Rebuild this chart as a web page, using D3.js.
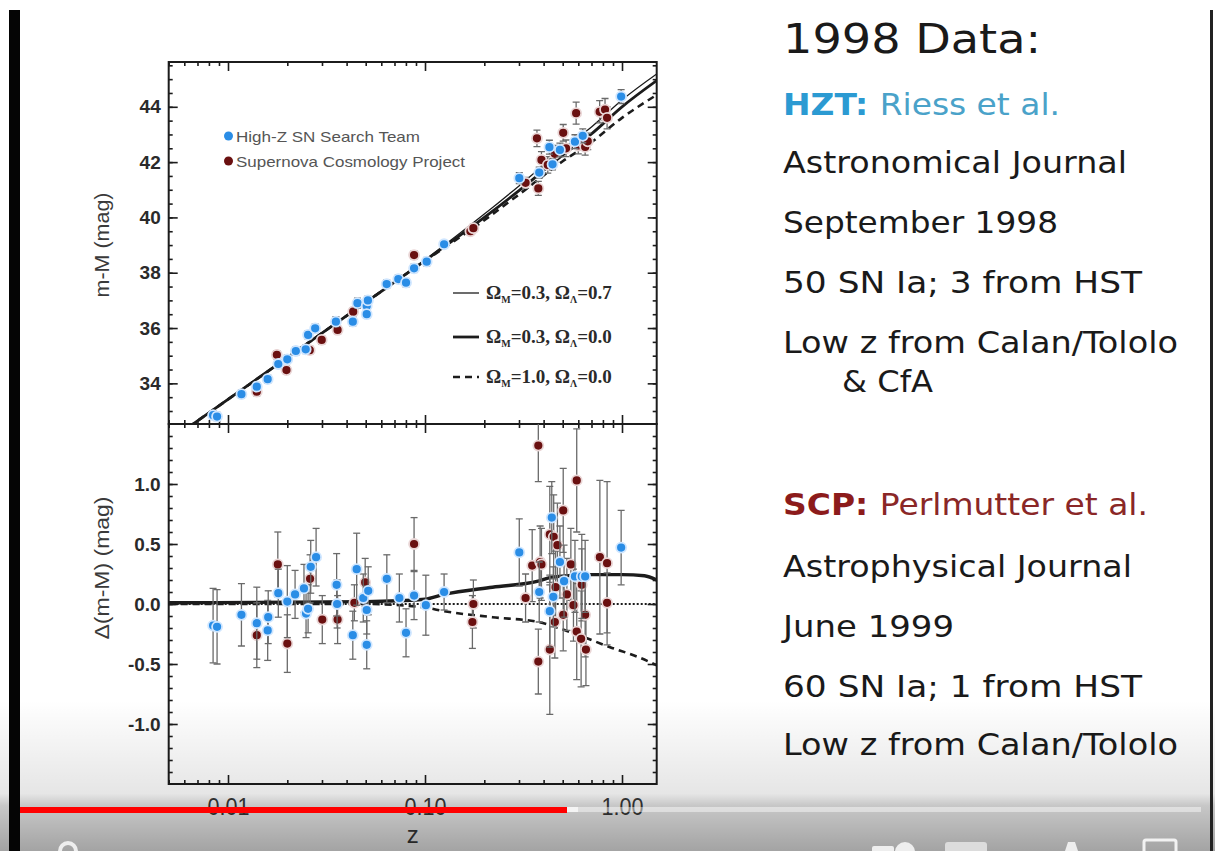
<!DOCTYPE html>
<html><head><meta charset="utf-8">
<script src="https://cdn.jsdelivr.net/npm/d3@7"></script>
<style>html,body{margin:0;padding:0;background:#fff;overflow:hidden}svg{display:block}</style>
</head><body>
<svg id="chart" width="1215" height="851"></svg>
<script>
// ---------------- data ----------------
const xMajorTicks = [0.01, 0.1, 1];
const xMinorTicks = [0.005,0.006,0.007,0.008,0.009,0.02,0.03,0.04,0.05,0.06,0.07,0.08,0.09,0.2,0.3,0.4,0.5,0.6,0.7,0.8,0.9];
const topMajorTicks = [34, 36, 38, 40, 42, 44];
const botMajorTicks = [-1.0, -0.5, 0.0, 0.5, 1.0];

// model curves, upper panel (z, m-M)
const modelZTop = [0.005,0.01,0.02,0.05,0.1,0.2,0.3,0.5,0.7,1.0,1.5];
const lcdmTop   = [31.91,33.43,34.95,36.95,38.47,40.12,41.14,42.47,43.27,44.25,45.19];
const openTop   = [31.91,33.42,34.93,36.93,38.44,40.00,40.97,42.25,43.02,44.00,44.95];
const edsTop    = [31.91,33.42,34.93,36.93,38.43,39.90,40.83,42.03,42.72,43.60,44.43];

// model curves, residual panel
const lcdmBotZ = [0.005,0.05,0.1,0.125,0.22,0.375,0.43,0.58,0.7,1.0,1.3,1.5];
const lcdmBot  = [0.01,0.02,0.04,0.08,0.14,0.19,0.22,0.24,0.245,0.245,0.235,0.2];
const openBotZ = [0.005,1.5];
const openBot  = [0,0];
const edsBotZ  = [0.005,0.05,0.1,0.125,0.22,0.375,0.58,0.87,1.2,1.5];
const edsBot   = [0,0,-0.03,-0.06,-0.11,-0.15,-0.25,-0.36,-0.44,-0.51];

// HZT upper panel [z, m-M, err]
const hztTop = [[0.0084,32.85,0.15],[0.0088,32.80,0.15],[0.0117,33.61,0.15],[0.0140,33.88,0.15],[0.0159,34.15,0.15],[0.0180,34.70,0.15],
 [0.0200,34.87,0.15],[0.0221,35.17,0.15],[0.0248,35.23,0.15],[0.0255,35.75,0.15],[0.0277,35.99,0.15],[0.0353,36.23,0.18],
 [0.0430,36.23,0.15],[0.0454,36.90,0.18],[0.0506,36.80,0.15],[0.0513,37.00,0.15],[0.0506,36.50,0.15],[0.0639,37.59,0.15],
 [0.0732,37.77,0.15],[0.0801,37.64,0.15],[0.0880,38.16,0.15],[0.102,38.40,0.15],[0.125,39.03,0.12],[0.301,41.42,0.2],
 [0.380,41.62,0.2],[0.428,42.54,0.25],[0.444,41.92,0.2],[0.484,42.44,0.25],[0.577,42.74,0.25],[0.632,42.95,0.25],[0.99,44.37,0.25]];
// SCP upper panel [z, m-M, err]
const scpTop = [[0.0140,33.70,0.15],[0.0177,35.03,0.15],[0.0198,34.48,0.15],[0.0260,35.20,0.15],[0.0299,35.57,0.15],[0.0360,35.93,0.15],
 [0.0432,36.59,0.15],[0.088,38.64,0.15],[0.170,39.50,0.15],[0.176,39.61,0.15],[0.324,41.25,0.2],[0.370,42.86,0.3],
 [0.376,41.05,0.25],[0.390,42.08,0.3],[0.420,41.90,0.3],[0.456,42.30,0.3],[0.503,43.06,0.3],[0.520,42.50,0.3],
 [0.585,43.77,0.4],[0.600,42.60,0.3],[0.625,42.74,0.3],[0.650,42.55,0.3],[0.670,42.75,0.3],[0.770,43.82,0.4],
 [0.820,43.90,0.4],[0.840,43.60,0.4]];

// HZT residual panel [z, dmu, err]
const hztBot = [[0.0084,-0.18,0.31],[0.0088,-0.19,0.31],[0.0117,-0.09,0.26],[0.0140,-0.16,0.30],[0.0160,-0.11,0.22],[0.0159,-0.22,0.25],
 [0.0180,0.09,0.20],[0.0200,0.02,0.30],[0.0219,0.08,0.20],[0.0243,0.13,0.20],[0.0249,-0.08,0.20],[0.0255,-0.04,0.20],
 [0.0263,0.31,0.22],[0.0280,0.39,0.24],[0.0356,0.16,0.26],[0.0358,0.00,0.20],[0.0430,-0.26,0.20],[0.0450,0.29,0.30],
 [0.0486,0.05,0.20],[0.0506,-0.05,0.20],[0.0515,0.11,0.20],[0.0506,-0.34,0.20],[0.0640,0.21,0.20],[0.0741,0.05,0.20],
 [0.0801,-0.24,0.20],[0.0880,0.07,0.20],[0.101,-0.01,0.25],[0.125,0.10,0.15],[0.301,0.43,0.28],[0.380,0.10,0.25],
 [0.440,0.72,0.30],[0.430,-0.06,0.30],[0.448,0.06,0.25],[0.484,0.35,0.30],[0.508,0.19,0.30],[0.577,0.23,0.30],
 [0.625,0.23,0.35],[0.650,0.23,0.30],[0.99,0.47,0.31]];
// SCP residual panel [z, dmu, err]
const scpBot = [[0.0140,-0.26,0.27],[0.0179,0.33,0.27],[0.0200,-0.33,0.24],[0.0261,0.21,0.20],[0.0301,-0.13,0.20],[0.0360,-0.13,0.20],
 [0.0438,0.01,0.15],[0.0497,0.18,0.20],[0.088,0.50,0.22],[0.176,0.00,0.20],[0.174,-0.15,0.22],[0.324,0.05,0.20],
 [0.376,1.32,0.30],[0.376,-0.48,0.27],[0.350,0.32,0.30],[0.384,0.35,0.30],[0.390,0.33,0.30],[0.430,-0.38,0.54],
 [0.430,0.58,0.40],[0.450,0.56,0.35],[0.470,0.49,0.35],[0.460,0.14,0.30],[0.456,-0.15,0.30],[0.503,0.78,0.35],
 [0.503,-0.09,0.30],[0.525,0.08,0.30],[0.550,0.33,0.30],[0.589,1.03,0.43],[0.589,-0.23,0.40],[0.620,-0.29,0.40],
 [0.625,0.16,0.30],[0.650,-0.09,0.35],[0.656,-0.38,0.30],[0.567,-0.01,0.30],[0.772,0.39,0.64],[0.840,0.34,0.68],[0.840,0.01,0.25]];

const legendSeries = ["High-Z SN Search Team", "Supernova Cosmology Project"];
const legendModels = [["0.3","0.7"],["0.3","0.0"],["1.0","0.0"]];
const xTitle = "z";
const yTopTitle = "m-M (mag)";
const yBotTitle = "\u0394(m-M) (mag)";

// ---------------- layout ----------------
const svg = d3.select('#chart');
const L = 168.7, R = 656.7, T = 62, M = 424, B = 784;
const x = d3.scaleLog().domain([0.005, 1.5]).range([L, R]);
const yTop = d3.scaleLinear().domain([32.53, 45.62]).range([M, T]);
const yBot = d3.scaleLinear().domain([-1.5, 1.5]).range([B, M]);
const blue = '#2a8de6', red = '#6a1010', ink = '#1c1c1c';

const defs = svg.append('defs');
defs.append('clipPath').attr('id','clipTop').append('rect').attr('x',L).attr('y',T).attr('width',R-L).attr('height',M-T);
defs.append('clipPath').attr('id','clipBot').append('rect').attr('x',L).attr('y',M).attr('width',R-L).attr('height',B-M);

// frames
svg.append('rect').attr('x',L).attr('y',T).attr('width',R-L).attr('height',M-T).attr('fill','none').attr('stroke',ink).attr('stroke-width',2);
svg.append('rect').attr('x',L).attr('y',M).attr('width',R-L).attr('height',B-M).attr('fill','none').attr('stroke',ink).attr('stroke-width',2);

function styleAxis(g){
  g.select('.domain').remove();
  g.selectAll('.tick line').attr('stroke', ink).attr('stroke-width', 1.6);
}
// x axes
function xAx(axisFn, ypos, label){
  svg.append('g').attr('transform',`translate(0,${ypos})`)
    .call(axisFn(x).tickValues(xMinorTicks).tickSize(-4).tickFormat('')).call(styleAxis);
  return svg.append('g').attr('transform',`translate(0,${ypos})`)
    .call(axisFn(x).tickValues(xMajorTicks).tickSize(-9).tickPadding(14).tickFormat(label ? (d => d.toFixed(2)) : '')).call(styleAxis);
}
xAx(d3.axisTop, T);
xAx(d3.axisBottom, M);
xAx(d3.axisTop, M);
const gxLab = xAx(d3.axisBottom, B, true);
gxLab.selectAll('text').attr('font-family','Liberation Sans, Arial, sans-serif').attr('font-size',24)
  .attr('fill','#3a3a3a').attr('textLength',42).attr('lengthAdjust','spacingAndGlyphs');

// y axes
function yAx(scale, minor, major, fmt){
  [[d3.axisLeft, L],[d3.axisRight, R]].forEach(([fn, xpos], i) => {
    svg.append('g').attr('transform',`translate(${xpos},0)`)
      .call(fn(scale).tickValues(minor).tickSize(-4).tickFormat('')).call(styleAxis);
    const g = svg.append('g').attr('transform',`translate(${xpos},0)`)
      .call(fn(scale).tickValues(major).tickSize(-9).tickPadding(8).tickFormat(i === 0 ? fmt : '')).call(styleAxis);
    g.selectAll('text').attr('font-family','Liberation Sans, Arial, sans-serif').attr('font-weight','bold')
      .attr('font-size',19).attr('fill','#2a2a2a');
  });
}
yAx(yTop, d3.range(33, 45.6, 0.5), topMajorTicks, d => String(d));
yAx(yBot, d3.range(-1.4, 1.45, 0.1).map(v => +v.toFixed(1)), botMajorTicks, d => d.toFixed(1));

// axis titles
svg.append('text').attr('x', (L+R)/2).attr('y', 843).attr('text-anchor','middle')
  .attr('font-family','Liberation Sans, Arial, sans-serif').attr('font-size',24).attr('fill','#3a3a3a').text(xTitle);
svg.append('text').attr('transform',`translate(109,${(T+M)/2+2}) rotate(-90)`).attr('text-anchor','middle')
  .attr('font-family','Liberation Sans, Arial, sans-serif').attr('font-size',20).attr('fill','#3a3a3a')
  .attr('textLength',105).attr('lengthAdjust','spacingAndGlyphs').text(yTopTitle);
svg.append('text').attr('transform',`translate(109,568) rotate(-90)`).attr('text-anchor','middle')
  .attr('font-family','Liberation Sans, Arial, sans-serif').attr('font-size',20).attr('fill','#3a3a3a')
  .attr('textLength',143).attr('lengthAdjust','spacingAndGlyphs').text(yBotTitle);

// model lines
function drawModel(g, zs, vs, yScale, style){
  const line = d3.line().x(d => x(d[0])).y(d => yScale(d[1])).curve(d3.curveMonotoneX);
  g.append('path').datum(zs.map((z,i)=>[z, vs[i]])).attr('d', line).attr('fill','none')
    .attr('stroke', ink).attr('stroke-width', style.w).attr('stroke-dasharray', style.dash || null);
}
const styles = [{w:1.3},{w:2.8},{w:2.6, dash:'7,5'}];
const gTop = svg.append('g').attr('clip-path','url(#clipTop)');
const gBot = svg.append('g').attr('clip-path','url(#clipBot)');
drawModel(gTop, modelZTop, lcdmTop, yTop, styles[0]);
drawModel(gTop, modelZTop, openTop, yTop, styles[1]);
drawModel(gTop, modelZTop, edsTop, yTop, styles[2]);
drawModel(gBot, openBotZ, openBot, yBot, {w:2, dash:'2,2'});
drawModel(gBot, lcdmBotZ, lcdmBot, yBot, {w:3.4});
drawModel(gBot, edsBotZ, edsBot, yBot, styles[2]);

// points with error bars
function drawPts(g, data, yScale, color, r){
  const e = g.append('g');
  data.forEach(d => {
    const px = x(d[0]), y1 = yScale(d[1]-d[2]), y2 = yScale(d[1]+d[2]);
    e.append('line').attr('x1',px).attr('x2',px).attr('y1',y1).attr('y2',y2).attr('stroke','#6a6a6a').attr('stroke-width',1.3);
    [y1,y2].forEach(yy => e.append('line').attr('x1',px-3.5).attr('x2',px+3.5).attr('y1',yy).attr('y2',yy).attr('stroke','#6a6a6a').attr('stroke-width',1.3));
  });
  g.append('g').selectAll('circle').data(data).join('circle')
    .attr('cx', d => x(d[0])).attr('cy', d => yScale(d[1])).attr('r', r)
    .attr('fill', color).attr('stroke', color === blue ? '#cfe6ff' : '#ead6d6').attr('stroke-width', 1.8);
}
drawPts(gTop, scpTop, yTop, red, 5);
drawPts(gTop, hztTop, yTop, blue, 5);
drawPts(gBot, scpBot, yBot, red, 5);
drawPts(gBot, hztBot, yBot, blue, 5);

// series legend
[[blue, 136],[red, 161]].forEach(([c, yy], i) => {
  svg.append('circle').attr('cx',228.5).attr('cy',yy).attr('r',4.5).attr('fill',c);
  svg.append('text').attr('x',236).attr('y',yy+5.5).attr('font-family','Liberation Sans, Arial, sans-serif')
    .attr('font-size',15).attr('fill','#555').attr('textLength', i === 0 ? 184 : 229).attr('lengthAdjust','spacingAndGlyphs')
    .text(legendSeries[i]);
});
// model legend
[293, 337, 377].forEach((yy, i) => {
  svg.append('line').attr('x1',453).attr('x2',479).attr('y1',yy).attr('y2',yy)
    .attr('stroke',ink).attr('stroke-width',styles[i].w).attr('stroke-dasharray',styles[i].dash || null);
  const t = svg.append('text').attr('x',486).attr('y',yy+6).attr('font-family','Liberation Serif, Times New Roman, serif')
    .attr('font-weight','bold').attr('font-size',19).attr('fill','#2a2a2a');
  t.append('tspan').text('\u03A9');
  t.append('tspan').attr('font-size',10).attr('dy',4).text('M');
  t.append('tspan').attr('dy',-4).text('=' + legendModels[i][0] + ', \u03A9');
  t.append('tspan').attr('font-size',10).attr('dy',4).text('\u039B');
  t.append('tspan').attr('dy',-4).text('=' + legendModels[i][1]);
});

// right-hand text
const rightLines = [
  {y:53, x:783, size:40, w:258, parts:[['1998 Data:','#1a1a1a','normal']]},
  {y:115, x:783, size:31, w:277, parts:[['HZT: ','#2b9ad2','bold'],['Riess et al.','#4aa2c9','normal']]},
  {y:173, x:783, size:31, w:344, parts:[['Astronomical Journal','#1a1a1a','normal']]},
  {y:233, x:783, size:31, w:275, parts:[['September 1998','#1a1a1a','normal']]},
  {y:293, x:783, size:31, w:359, parts:[['50 SN Ia; 3 from HST','#1a1a1a','normal']]},
  {y:353, x:783, size:31, w:395, parts:[['Low z from Calan/Tololo','#1a1a1a','normal']]},
  {y:392, x:842, size:31, w:91, parts:[['& CfA','#1a1a1a','normal']]},
  {y:515, x:783, size:31, w:365, parts:[['SCP: ','#8c1b1b','bold'],['Perlmutter et al.','#8a2727','normal']]},
  {y:577, x:783, size:31, w:349, parts:[['Astrophysical Journal','#1a1a1a','normal']]},
  {y:637, x:783, size:31, w:171, parts:[['June 1999','#1a1a1a','normal']]},
  {y:697, x:783, size:31, w:359, parts:[['60 SN Ia; 1 from HST','#1a1a1a','normal']]},
  {y:755, x:783, size:31, w:395, parts:[['Low z from Calan/Tololo','#1a1a1a','normal']]}
];
rightLines.forEach(l => {
  const t = svg.append('text').attr('x',l.x).attr('y',l.y).attr('font-family','DejaVu Sans, Verdana, sans-serif')
    .attr('font-size',l.size).attr('textLength',l.w).attr('lengthAdjust','spacingAndGlyphs');
  l.parts.forEach(p => t.append('tspan').attr('fill',p[1]).attr('font-weight',p[2]).text(p[0]));
});

// video player overlay
const grad = defs.append('linearGradient').attr('id','shade').attr('x1',0).attr('y1',0).attr('x2',0).attr('y2',1);
[[0,0],[0.62,0.1],[0.7,0.22],[1,0.36]].forEach(([o,a]) => grad.append('stop').attr('offset',o).attr('stop-color','#000').attr('stop-opacity',a));
svg.append('rect').attr('x',0).attr('y',700).attr('width',1215).attr('height',151).attr('fill','url(#shade)');
svg.append('rect').attr('x',9).attr('y',807).attr('width',1192).attr('height',5).attr('fill','#fff').attr('fill-opacity',0.45);
svg.append('rect').attr('x',567).attr('y',807).attr('width',11).attr('height',5).attr('fill','#f4f4f4');
svg.append('rect').attr('x',9).attr('y',807).attr('width',558).attr('height',6).attr('fill','#ff0000');
// partial control icons
const ic = svg.append('g').attr('fill','#eeeeee').attr('stroke','none');
ic.append('path').attr('d','M58,851 A10,10 0 0 1 78,851 L74,851 A6,6 0 0 0 62,851 Z');
ic.append('rect').attr('x',872).attr('y',846).attr('width',22).attr('height',10).attr('rx',2);
ic.append('circle').attr('cx',905).attr('cy',852).attr('r',10);
ic.append('rect').attr('x',945).attr('y',842).attr('width',42).attr('height',14).attr('rx',3).attr('fill','#dcdcdc');
ic.append('path').attr('d','M1065,851 L1068,842 L1075,842 L1078,851 Z');
svg.append('rect').attr('x',1144).attr('y',840).attr('width',32).attr('height',16).attr('rx',2).attr('fill','none').attr('stroke','#f2f2f2').attr('stroke-width',3);

// frame bars
svg.append('rect').attr('x',9).attr('y',10).attr('width',11).attr('height',841).attr('fill','#050505');
svg.append('rect').attr('x',1210).attr('y',10).attr('width',3).attr('height',841).attr('fill','#222');
</script>
</body></html>
